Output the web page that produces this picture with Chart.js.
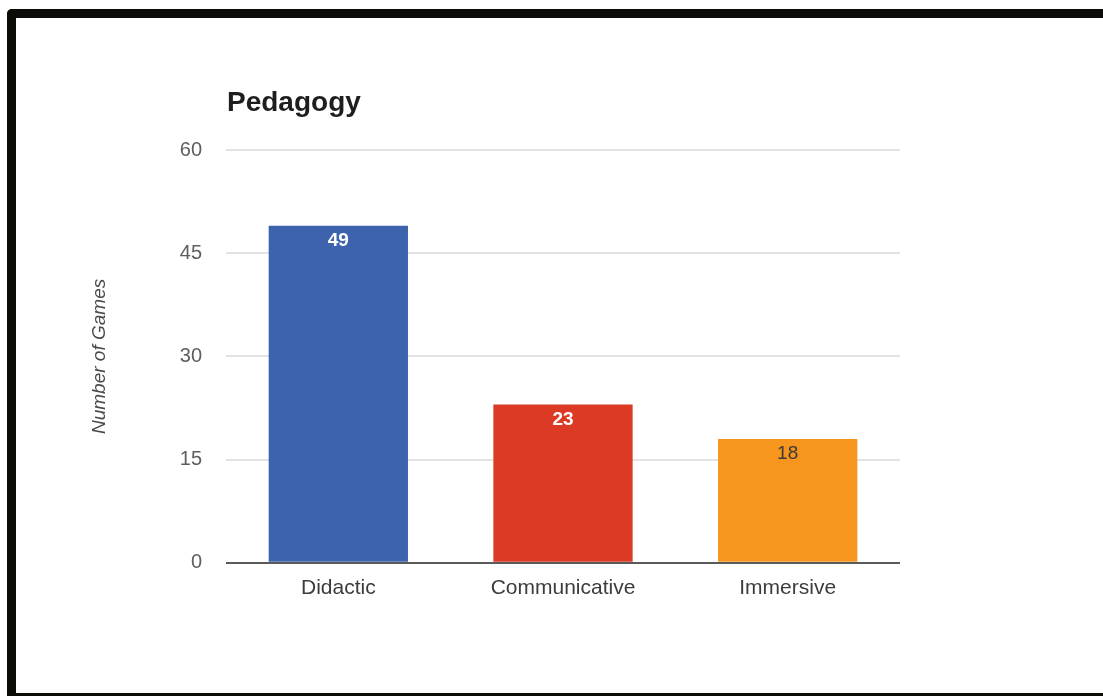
<!DOCTYPE html>
<html>
<head>
<meta charset="utf-8">
<title>Pedagogy</title>
<script src="https://cdn.jsdelivr.net/npm/chart.js@4/dist/chart.umd.min.js"></script>
<style>
  html, body { margin:0; padding:0; background:#fff; }
  #wrap { position:relative; width:1103px; height:696px; overflow:hidden; }
  #frame {
    position:absolute; left:7px; top:9px; right:-10px; bottom:0;
    border-top:9px solid #0b0b08; border-left:9px solid #0b0b08; border-bottom:3px solid #0b0b08;
    border-top-left-radius:5px; box-sizing:border-box; pointer-events:none;
  }
  canvas { position:absolute; left:0; top:0; }
</style>
</head>
<body>
<div id="wrap">
  <canvas id="chart" width="1103" height="696"></canvas>
  <div id="frame"></div>
</div>
<script>
const chartTitle = 'Pedagogy';
const axisTitle = 'Number of Games';
const categories = ['Didactic', 'Communicative', 'Immersive'];
const games = [49, 23, 18];
const barColors = ['#3d63ae', '#dd3a25', '#f6961f'];
const yTicks = [0, 15, 30, 45, 60];

const FONT = "'Liberation Sans', Arial, sans-serif";

// heading above the plot, aligned with the left edge of the grid
const headingPlugin = {
  id: 'heading',
  afterDraw(chart){
    const c = chart.ctx, a = chart.chartArea;
    c.save();
    c.font = `bold 28px ${FONT}`;
    c.fillStyle = '#1e1e1e';
    c.textAlign = 'left';
    c.textBaseline = 'alphabetic';
    c.fillText(chartTitle, a.left + 1, 111);
    c.restore();
  }
};

// value annotations just inside the top of each bar
const valueLabels = {
  id: 'valueLabels',
  afterDatasetsDraw(chart){
    const c = chart.ctx;
    const meta = chart.getDatasetMeta(0);
    const colors = ['#ffffff', '#ffffff', '#3a3a3a'];
    const weights = ['bold', 'bold', 'normal'];
    c.save();
    c.textAlign = 'center';
    c.textBaseline = 'middle';
    meta.data.forEach((bar, i) => {
      c.font = `${weights[i]} 19px ${FONT}`;
      c.fillStyle = colors[i];
      c.fillText(String(games[i]), bar.x, bar.y + 15);
    });
    c.restore();
  }
};

new Chart(document.getElementById('chart'), {
  type: 'bar',
  data: {
    labels: categories,
    datasets: [{
      data: games,
      backgroundColor: barColors,
      borderWidth: 0,
      categoryPercentage: 1,
      barPercentage: 0.62
    }]
  },
  options: {
    responsive: false,
    animation: false,
    layout: { padding: { left: 84, top: 150, right: 203, bottom: 82 } },
    plugins: { legend: { display: false }, tooltip: { enabled: false } },
    scales: {
      x: {
        grid: { display: false, drawTicks: false },
        border: { display: false },
        ticks: { color: '#3c3c3c', font: { family: FONT, size: 21 }, padding: 13 }
      },
      y: {
        min: 0, max: 60,
        afterFit(scale){ scale.width = 142; },
        afterBuildTicks(scale){ scale.ticks = yTicks.map(v => ({ value: v })); },
        grid: {
          drawTicks: false,
          lineWidth: 2,
          color: ctx => ctx.tick && ctx.tick.value === 0 ? '#5a5a5a' : '#e3e3e3'
        },
        border: { display: false },
        ticks: { color: '#5e5e5e', font: { family: FONT, size: 20 }, padding: 24 },
        title: {
          display: true,
          text: axisTitle,
          color: '#4a4a4a',
          font: { family: FONT, size: 19, style: 'italic' },
          padding: { top: 4, bottom: 0 }
        }
      }
    }
  },
  plugins: [headingPlugin, valueLabels]
});
</script>
</body>
</html>
